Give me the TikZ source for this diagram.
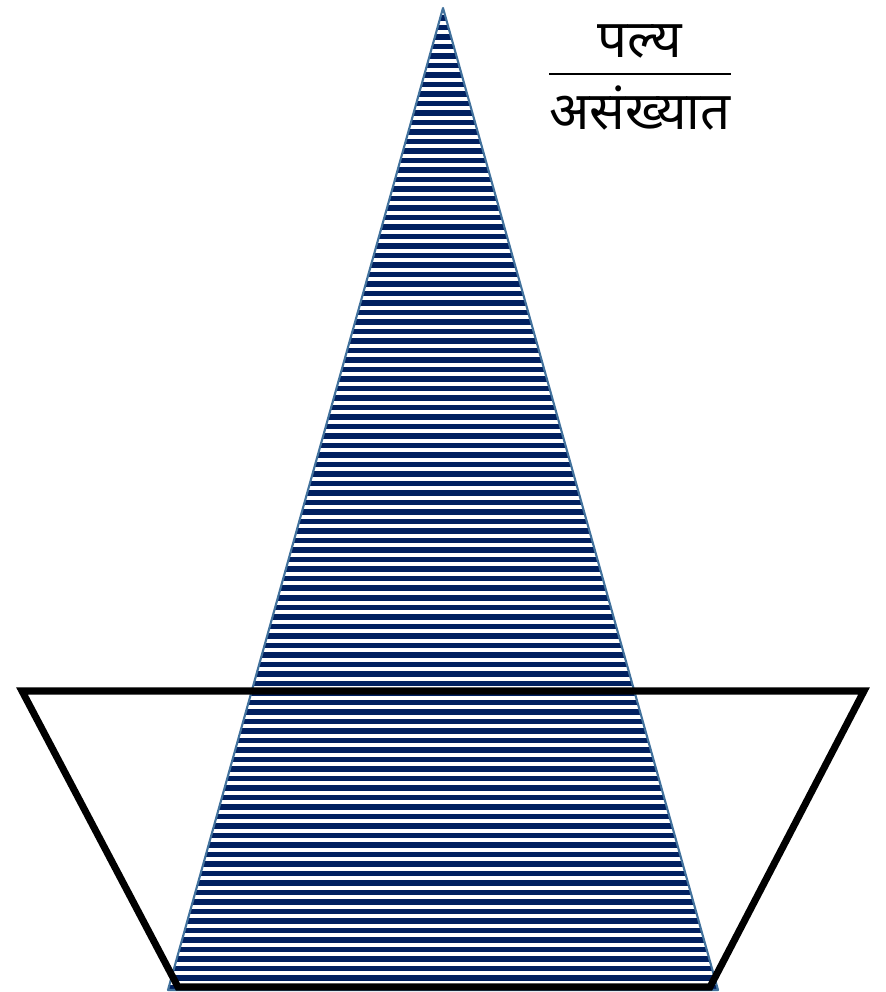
\documentclass[tikz,border=0pt]{standalone}
\usepackage{fontspec}
\newfontfamily\devfont[Script=Devanagari]{Noto Sans}
\usepackage{tikz}
\usetikzlibrary{positioning,calc}
\definecolor{StripeNavy}{RGB}{0,32,96}
\definecolor{EdgeBlue}{RGB}{65,113,156}
\tikzset{
	stripe/.style={fill=StripeNavy},
	cone/.style={draw=EdgeBlue,line width=1.2pt,line join=round},
	bowl/.style={draw=black,line width=4pt,line join=miter},
	word/.style={inner sep=0pt,font=\devfont\fontsize{30}{34}\selectfont},
	bar/.style={draw=black,line width=1.1pt},
}

\begin{document}
\begin{tikzpicture}
	\useasboundingbox (0,0) rectangle (17.7,19.84);
	\coordinate (apex) at (8.86,19.68);
	\coordinate (bl) at (3.36,0.04);
	\coordinate (br) at (14.36,0.04);
	% striped cone
	\begin{scope}
		\clip (apex) -- (bl) -- (br) -- cycle;
		\foreach \i in {0,...,104}
			\fill[stripe] (3,{19.72-0.19*\i}) rectangle (15,{19.72-0.19*\i-0.11});
	\end{scope}
	\draw[cone] (apex) -- (bl) -- (br) -- cycle;
	% trapezoid
	\coordinate (tl) at (0.44,6.02);
	\coordinate (tr) at (17.28,6.02);
	\coordinate (dr) at (14.2,0.1);
	\coordinate (dl) at (3.56,0.1);
	\draw[bowl] (tl) -- (tr) -- (dr) -- (dl) -- cycle;
	% label
	\node[word] (num) at (12.8,19.02) {पल्य};
	\node[word] (den) at (12.8,17.68) {असंख्यात};
	\coordinate (ls) at (10.98,18.36);
	\coordinate (le) at (14.62,18.36);
	\draw[bar] (ls) -- (le);
\end{tikzpicture}
\end{document}
